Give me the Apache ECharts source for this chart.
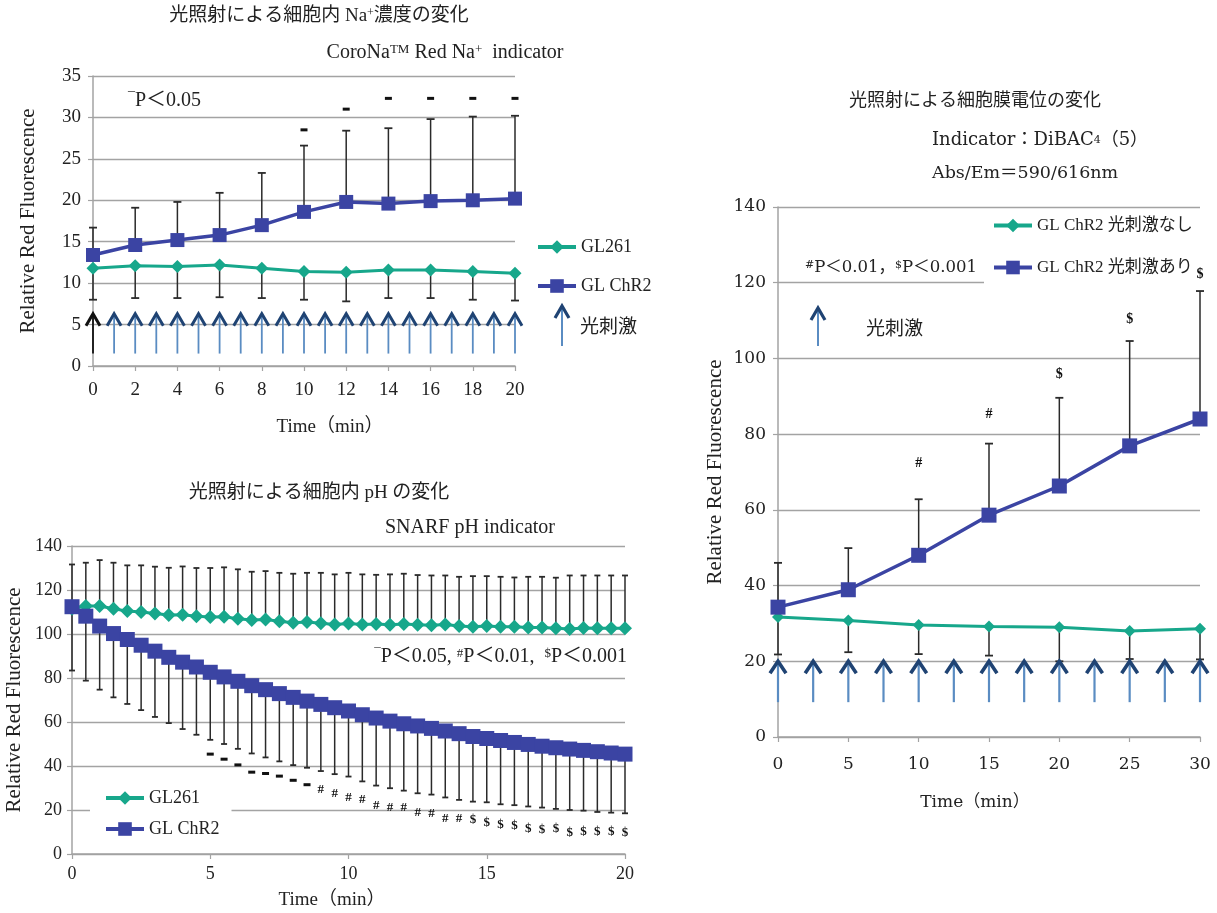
<!DOCTYPE html>
<html><head><meta charset="utf-8">
<script src="https://cdn.jsdelivr.net/npm/echarts@6/dist/echarts.min.js"></script>
<style>html,body{margin:0;padding:0;background:#fff}#chart{width:1217px;height:913px}</style>
</head><body><div id="chart"></div>
<script>
// ---- Intracellular Na+ (CoroNa Red) ----
const naTime = [0, 2, 4, 6, 8, 10, 12, 14, 16, 18, 20];
const naChR2 = [13.4, 14.6, 15.2, 15.8, 17.0, 18.6, 19.8, 19.6, 19.9, 20.0, 20.2];
const naChR2Upper = [16.7, 19.1, 19.8, 20.9, 23.3, 26.6, 28.4, 28.7, 29.8, 30.1, 30.2];
const naGL261 = [11.8, 12.1, 12.0, 12.2, 11.8, 11.4, 11.3, 11.6, 11.6, 11.4, 11.2];
const naGL261Lower = [8.0, 8.2, 8.2, 8.3, 8.2, 8.0, 7.8, 8.2, 8.2, 8.0, 7.9];
const naSigTime = [10, 12, 14, 16, 18, 20];
const naSigLevel = [28.5, 31.0, 32.3, 32.3, 32.3, 32.3];
const naSigMark = ['-', '-', '-', '-', '-', '-'];
const naStim = [0, 1, 2, 3, 4, 5, 6, 7, 8, 9, 10, 11, 12, 13, 14, 15, 16, 17, 18, 19, 20];

// ---- Intracellular pH (SNARF) ----
const phTime = [0, 0.5, 1, 1.5, 2, 2.5, 3, 3.5, 4, 4.5, 5, 5.5, 6, 6.5, 7, 7.5, 8, 8.5, 9, 9.5, 10,
  10.5, 11, 11.5, 12, 12.5, 13, 13.5, 14, 14.5, 15, 15.5, 16, 16.5, 17, 17.5, 18, 18.5, 19, 19.5, 20];
const phChR2 = [112.4, 108.1, 103.6, 100.2, 97.5, 94.9, 92.2, 89.4, 87.2, 85.0, 82.6, 80.5, 78.5, 76.5,
  74.7, 72.9, 71.2, 69.5, 68.0, 66.5, 65.0, 63.3, 61.8, 60.4, 59.2, 58.2, 57.1, 55.9, 54.7, 53.4, 52.5,
  51.6, 50.7, 49.8, 49.0, 48.3, 47.7, 47.1, 46.5, 45.9, 45.4];
const phChR2Lower = [83.4, 78.8, 74.7, 71.2, 68.2, 65.4, 62.3, 59.5, 56.8, 54.2, 51.9, 50.0, 47.8, 45.7,
  43.9, 42.1, 40.4, 39.2, 37.7, 36.3, 35.2, 33.0, 31.1, 29.9, 28.8, 27.6, 27.0, 25.7, 24.6, 23.8, 23.5,
  22.6, 22.2, 21.6, 21.1, 20.5, 20.0, 19.7, 19.1, 18.8, 18.5];
const phGL261 = [111.5, 112.7, 112.7, 111.5, 110.4, 110.0, 109.3, 108.6, 108.7, 108.1, 107.7, 107.8, 106.9,
  106.4, 106.6, 105.8, 105.1, 105.4, 104.9, 104.3, 104.8, 104.3, 104.6, 104.2, 104.5, 104.2, 104.0, 104.3,
  103.6, 103.3, 103.6, 103.3, 103.3, 102.9, 102.9, 102.6, 102.3, 102.7, 102.6, 102.6, 102.6];
const phGL261Upper = [131.6, 132.4, 133.6, 132.4, 131.2, 131.2, 130.6, 130.1, 130.7, 130.0, 130.0, 130.3,
  129.4, 128.3, 128.6, 127.8, 127.4, 127.8, 127.8, 127.1, 127.8, 127.1, 126.9, 127.1, 127.4, 126.8, 126.6,
  126.6, 126.0, 126.3, 126.3, 126.0, 125.7, 126.0, 126.0, 125.6, 126.6, 126.6, 126.6, 126.6, 126.6];
const phSigTime = [5, 5.5, 6, 6.5, 7, 7.5, 8, 8.5, 9, 9.5, 10, 10.5, 11, 11.5, 12, 12.5, 13, 13.5, 14,
  14.5, 15, 15.5, 16, 16.5, 17, 17.5, 18, 18.5, 19, 19.5, 20];
const phSigLevel = [45.4, 43.1, 40.5, 37.2, 36.6, 35.4, 33.5, 31.5,
  29.2, 27.4, 25.5, 24.8, 22.0, 21.2, 20.9, 18.6, 18.2, 16.2, 16.2,
  15.4, 14.3, 13.5, 12.8, 11.5, 11.2, 11.5, 9.7, 10.0, 10.0, 10.2, 9.7];
const phSigMark = ['-', '-', '-', '-', '-', '-', '-', '-',
  '#', '#', '#', '#', '#', '#', '#', '#', '#', '#', '#',
  '$', '$', '$', '$', '$', '$', '$', '$', '$', '$', '$', '$'];

// ---- Membrane potential (DiBAC4(5)) ----
const mpTime = [0, 5, 10, 15, 20, 25, 30];
const mpStimOn = [34.3, 38.9, 48.0, 58.6, 66.3, 76.9, 84.0];
const mpStimOnUpper = [46.0, 49.9, 62.8, 77.5, 89.6, 104.6, 117.8];
const mpStimOff = [31.7, 30.8, 29.6, 29.2, 29.0, 28.0, 28.6];
const mpStimOffLower = [21.8, 22.4, 21.9, 21.5, 20.0, 20.6, 20.5];
const mpSigTime = [10, 15, 20, 25, 30];
const mpSigLevel = [72.3, 85.2, 95.9, 110.4, 122.2];
const mpSigMark = ['#', '#', '$', '$', '$'];
const mpStim = [0, 2.5, 5, 7.5, 10, 12.5, 15, 17.5, 20, 22.5, 25, 27.5, 30];

// ---- styling ----
const SERIF = '"Liberation Serif","Noto Sans CJK JP",serif';
const SERIF_WIDE = '"DejaVu Serif","Noto Sans CJK JP",serif';
const GREEN = '#17a78b';
const BLUE = '#3b44a3';
const GRID_GRAY = '#a3a3a3';
const INK = '#222';
const ARROW_HEAD = '#1f4373';
const ARROW_SHAFT = '#5a8cc2';

const chart = echarts.init(document.getElementById('chart'), null, { renderer: 'canvas' });

function xAxisFor(gridIndex, max, interval, family, size, margin) {
  return {
    type: 'value', gridIndex, min: 0, max, interval,
    axisLine: { lineStyle: { color: GRID_GRAY, width: 1.5 } },
    axisTick: { show: true, length: 5, lineStyle: { color: GRID_GRAY, width: 1.2 } },
    axisLabel: { fontFamily: family, fontSize: size, color: INK, margin },
    splitLine: { show: false }
  };
}
function yAxisFor(gridIndex, max, interval, family, size, nameFamily, nameSize, nameGap, margin) {
  return {
    type: 'value', gridIndex, min: 0, max, interval,
    name: 'Relative Red Fluorescence', nameLocation: 'middle', nameGap,
    nameTextStyle: { fontFamily: nameFamily, fontSize: nameSize, color: INK },
    axisLine: { show: true, lineStyle: { color: GRID_GRAY, width: 1.5 } },
    axisTick: { show: true, length: 5, lineStyle: { color: GRID_GRAY, width: 1.2 } },
    axisLabel: { fontFamily: family, fontSize: size, color: INK, margin },
    splitLine: { show: true, lineStyle: { color: GRID_GRAY, width: 1.3 } }
  };
}

// vertical error bar: [x, mean, end] with a cap at the end
function errorBarSeries(axis, xs, means, ends, cap) {
  return {
    type: 'custom', xAxisIndex: axis, yAxisIndex: axis, z: 1, silent: true,
    data: xs.map((x, i) => [x, means[i], ends[i]]),
    encode: { x: 0, y: [1, 2] },
    renderItem: (params, api) => {
      const p0 = api.coord([api.value(0), api.value(1)]);
      const p1 = api.coord([api.value(0), api.value(2)]);
      return {
        type: 'group', children: [
          { type: 'line', shape: { x1: p0[0], y1: p0[1], x2: p1[0], y2: p1[1] }, style: { stroke: '#2a2a2a', lineWidth: 1.5 } },
          { type: 'line', shape: { x1: p1[0] - cap, y1: p1[1], x2: p1[0] + cap, y2: p1[1] }, style: { stroke: '#2a2a2a', lineWidth: 1.8 } }
        ]
      };
    }
  };
}

// light-stimulus arrows at each stimulus time
function arrowSeries(axis, times, base, tip, st, firstColor) {
  return {
    type: 'custom', xAxisIndex: axis, yAxisIndex: axis, z: 3, silent: true,
    data: times.map(t => [t, base, tip]),
    encode: { x: 0, y: [1, 2] },
    renderItem: (params, api) => {
      const b = api.coord([api.value(0), api.value(1)]);
      const t = api.coord([api.value(0), api.value(2)]);
      const first = params.dataIndex === 0 && firstColor;
      const head = first ? firstColor : ARROW_HEAD;
      const shaft = first ? firstColor : ARROW_SHAFT;
      return {
        type: 'group', children: [
          { type: 'line', shape: { x1: b[0], y1: b[1], x2: t[0], y2: t[1] + 2 }, style: { stroke: shaft, lineWidth: st.shaftW } },
          { type: 'polyline', shape: { points: [[t[0] - st.halfW, t[1] + st.headH], [t[0], t[1]], [t[0] + st.halfW, t[1] + st.headH]] },
            style: { stroke: head, lineWidth: st.headW, fill: null, lineJoin: 'miter' } }
        ]
      };
    }
  };
}

// significance markers
function sigSeries(axis, xs, ys, marks, fontSize, dashW) {
  return {
    type: 'custom', xAxisIndex: axis, yAxisIndex: axis, z: 4, silent: true,
    data: xs.map((x, i) => [x, ys[i]]),
    encode: { x: 0, y: 1 },
    renderItem: (params, api) => {
      const p = api.coord([api.value(0), api.value(1)]);
      const m = marks[params.dataIndex];
      if (m === '-') {
        return { type: 'rect', shape: { x: p[0] - dashW / 2, y: p[1] - 1.5, width: dashW, height: 3 }, style: { fill: '#111' } };
      }
      return { type: 'text', x: p[0], y: p[1],
        style: { text: m, fontFamily: SERIF, fontSize, fontWeight: 'bold', fill: '#111', align: 'center', verticalAlign: 'middle' } };
    }
  };
}

function lineSeries(axis, name, xs, ys, color, symbol, size, width) {
  return {
    type: 'line', name, xAxisIndex: axis, yAxisIndex: axis, z: 2,
    data: xs.map((x, i) => [x, ys[i]]),
    symbol, symbolSize: size, showSymbol: true,
    lineStyle: { color, width }, itemStyle: { color },
    animation: false
  };
}

function arrowIcon(x, yBase, yTip) {
  return {
    type: 'group', children: [
      { type: 'line', shape: { x1: x, y1: yBase, x2: x, y2: yTip + 2 }, style: { stroke: ARROW_SHAFT, lineWidth: 2 } },
      { type: 'polyline', shape: { points: [[x - 7, yTip + 12], [x, yTip], [x + 7, yTip + 12]] }, style: { stroke: ARROW_HEAD, lineWidth: 3.2, fill: null } }
    ]
  };
}

function label(x, y, text, family, size, align, rich) {
  return { type: 'text', x, y, z: 10,
    style: { text, fontFamily: family, fontSize: size, fill: INK, align: align || 'center', verticalAlign: 'middle', rich: rich || {} } };
}
const supRich = (family, size) => ({ sup: { fontFamily: family, fontSize: size, verticalAlign: 'top', fill: INK } });

const legendBase = (family, size) => ({
  orient: 'vertical', itemWidth: 38, itemHeight: 17, selectedMode: false,
  lineStyle: { width: 4 },
  textStyle: { fontFamily: family, fontSize: size, color: INK }
});

const option = {
  backgroundColor: '#fff',
  animation: false,
  grid: [
    { left: 93, top: 76, width: 422, height: 290 },
    { left: 72, top: 546, width: 553, height: 308 },
    { left: 778, top: 207, width: 422, height: 530 }
  ],
  xAxis: [
    xAxisFor(0, 20, 2, SERIF, 19, 15),
    xAxisFor(1, 20, 5, SERIF, 18, 11),
    xAxisFor(2, 30, 5, SERIF_WIDE, 17, 19)
  ],
  yAxis: [
    yAxisFor(0, 35, 5, SERIF, 19, SERIF, 21, 54, 12),
    yAxisFor(1, 140, 20, SERIF, 18, SERIF, 21, 47, 10),
    yAxisFor(2, 140, 20, SERIF_WIDE, 17, SERIF, 21, 52, 12)
  ],
  legend: [
    Object.assign(legendBase(SERIF, 18), { data: ['GL261', 'GL ChR2'], left: 534, top: 236, itemGap: 21, padding: 2 }),
    Object.assign(legendBase(SERIF, 18), { data: ['GL261', 'GL ChR2'], left: 90, top: 783, itemGap: 13,
      backgroundColor: '#fff', padding: [6, 12, 6, 14] }),
    Object.assign(legendBase(SERIF, 17), { data: ['GL ChR2 光刺激なし', 'GL ChR2 光刺激あり'], left: 984, top: 210,
      itemGap: 25, backgroundColor: '#fff', padding: [7, 30, 8, 8] })
  ],
  series: [
    // Na+
    errorBarSeries(0, naTime, naChR2, naChR2Upper, 4),
    errorBarSeries(0, naTime, naGL261, naGL261Lower, 4),
    lineSeries(0, 'GL261', naTime, naGL261, GREEN, 'diamond', 13, 3),
    lineSeries(0, 'GL ChR2', naTime, naChR2, BLUE, 'rect', 14, 3.5),
    arrowSeries(0, naStim, 1.5, 6.3, { halfW: 7, headH: 12, headW: 3, shaftW: 1.8 }, '#111'),
    sigSeries(0, naSigTime, naSigLevel, naSigMark, 12, 7),
    // pH
    errorBarSeries(1, phTime, phChR2, phChR2Lower, 3),
    errorBarSeries(1, phTime, phGL261, phGL261Upper, 3),
    lineSeries(1, 'GL261', phTime, phGL261, GREEN, 'diamond', 14, 3),
    lineSeries(1, 'GL ChR2', phTime, phChR2, BLUE, 'rect', 15, 3),
    sigSeries(1, phSigTime, phSigLevel, phSigMark, 13, 7),
    // membrane potential
    errorBarSeries(2, mpTime, mpStimOn, mpStimOnUpper, 4),
    errorBarSeries(2, mpTime, mpStimOff, mpStimOffLower, 4),
    lineSeries(2, 'GL ChR2 光刺激なし', mpTime, mpStimOff, GREEN, 'diamond', 12, 3),
    lineSeries(2, 'GL ChR2 光刺激あり', mpTime, mpStimOn, BLUE, 'rect', 15, 3.5),
    arrowSeries(2, mpStim, 9.2, 20, { halfW: 8, headH: 12, headW: 3.6, shaftW: 2.2 }, null),
    sigSeries(2, mpSigTime, mpSigLevel, mpSigMark, 14, 7)
  ],
  graphic: [
    // Na+ panel texts
    label(319, 16, '光照射による細胞内 Na{sup|+}濃度の変化', SERIF, 19, 'center', supRich(SERIF, 12)),
    label(445, 53, 'CoroNa{sup|TM} Red Na{sup|+}  indicator', SERIF, 20, 'center', supRich(SERIF, 13)),
    label(128, 101, '{sup|¯}P＜0.05', SERIF, 20, 'left', supRich(SERIF, 14)),
    label(330, 427, 'Time（min）', SERIF, 19, 'center'),
    arrowIcon(562, 346, 306),
    label(580, 328, '光刺激', SERIF, 19, 'left'),
    // pH panel texts
    label(319, 493, '光照射による細胞内 pH の変化', SERIF, 19, 'center'),
    label(470, 528, 'SNARF pH indicator', SERIF, 20, 'center'),
    label(627, 657, '{sup|¯}P＜0.05, {sup|#}P＜0.01,  {sup|$}P＜0.001', SERIF, 20, 'right', supRich(SERIF, 13)),
    label(332, 900, 'Time（min）', SERIF, 19, 'center'),
    // membrane potential panel texts
    label(975, 101, '光照射による細胞膜電位の変化', SERIF, 18, 'center'),
    label(932, 140, 'Indicator：DiBAC{sub|4}（5）', SERIF_WIDE, 18, 'left',
      { sub: { fontFamily: SERIF_WIDE, fontSize: 11, verticalAlign: 'middle', fill: INK } }),
    label(932, 173, 'Abs/Em＝590/616nm', SERIF_WIDE, 17.5, 'left'),
    label(805, 268, '{sup|#}P＜0.01，{sup|$}P＜0.001', SERIF_WIDE, 16.5, 'left', supRich(SERIF_WIDE, 11)),
    label(975, 803, 'Time（min）', SERIF_WIDE, 17, 'center'),
    arrowIcon(818, 346, 308),
    label(866, 330, '光刺激', SERIF, 19, 'left')
  ]
};
chart.setOption(option);
</script></body></html>
